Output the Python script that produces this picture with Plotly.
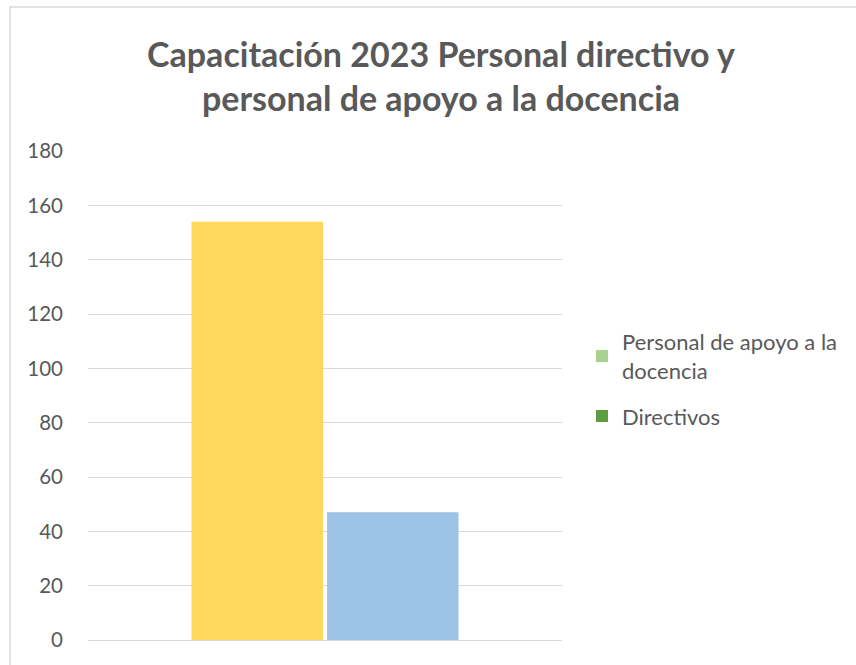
import plotly.graph_objects as go

# Data
category = ["Capacitación 2023"]
series_names = ["Directivos", "Personal de apoyo a la docencia"]
series_values = [[154], [47]]
bar_colors = ["#FFD75B", "#9DC3E6"]
legend_names = ["Personal de apoyo a la<br>docencia", "Directivos"]
legend_colors = ["#A9D18E", "#5E9C41"]
y_ticks = [0, 20, 40, 60, 80, 100, 120, 140, 160, 180]

FONT = "Lato, Open Sans, sans-serif"
GRAY = "#595959"

fig = go.Figure()
for name, vals, col in zip(series_names, series_values, bar_colors):
    fig.add_trace(go.Bar(x=category, y=vals, name=name, marker=dict(color=col, line=dict(width=0)),
                         showlegend=False))
for i, (name, col) in enumerate(zip(legend_names, legend_colors)):
    fig.add_trace(go.Scatter(x=[None], y=[None], mode="markers", name=name, legendgroup=f"g{i}",
                             marker=dict(symbol="square", size=7, color=col)))

W, H = 856, 665
L, R, T, B = 88, 294, 151, 25

fig.update_layout(
    width=W, height=H,
    margin=dict(l=L, r=R, t=T, b=B),
    paper_bgcolor="white", plot_bgcolor="white",
    barmode="group", bargap=0.428, bargroupgap=0.03,
    title=dict(text="<b>Capacitación 2023 Personal directivo y<br>personal de apoyo a la docencia</b>",
               font=dict(family=FONT, size=34, color=GRAY),
               x=441 / W, xanchor="center", xref="container",
               y=1 - 67 / H, yanchor="middle", yref="container"),
    font=dict(family=FONT, color=GRAY),
    xaxis=dict(showticklabels=False, showgrid=False, zeroline=False, showline=False),
    yaxis=dict(range=[0, 180], tickvals=y_ticks, showgrid=True, gridcolor="#D9D9D9", gridwidth=1,
               zeroline=True, zerolinecolor="#D9D9D9", zerolinewidth=1, showline=False,
               tickfont=dict(family=FONT, size=20.5, color=GRAY), ticklabelstandoff=24),
    legend=dict(x=(582 - L) / (W - L - R), xanchor="left", y=(640 - 321) / (640 - T), yanchor="top",
                font=dict(family=FONT, size=22, color=GRAY), traceorder="grouped",
                itemsizing="constant", tracegroupgap=14, bgcolor="rgba(0,0,0,0)"),
    shapes=[dict(type="rect", xref="paper", yref="paper",
                 x0=(10 - L) / (W - L - R), x1=(W + 20 - L) / (W - L - R),
                 y0=(640 - H - 20) / (640 - T), y1=(640 - 7) / (640 - T),
                 line=dict(color="#D9D9D9", width=1.5), layer="below")],
)

fig.write_html("out.html", config={"displayModeBar": False},
               post_script="document.body.style.margin='0';")
